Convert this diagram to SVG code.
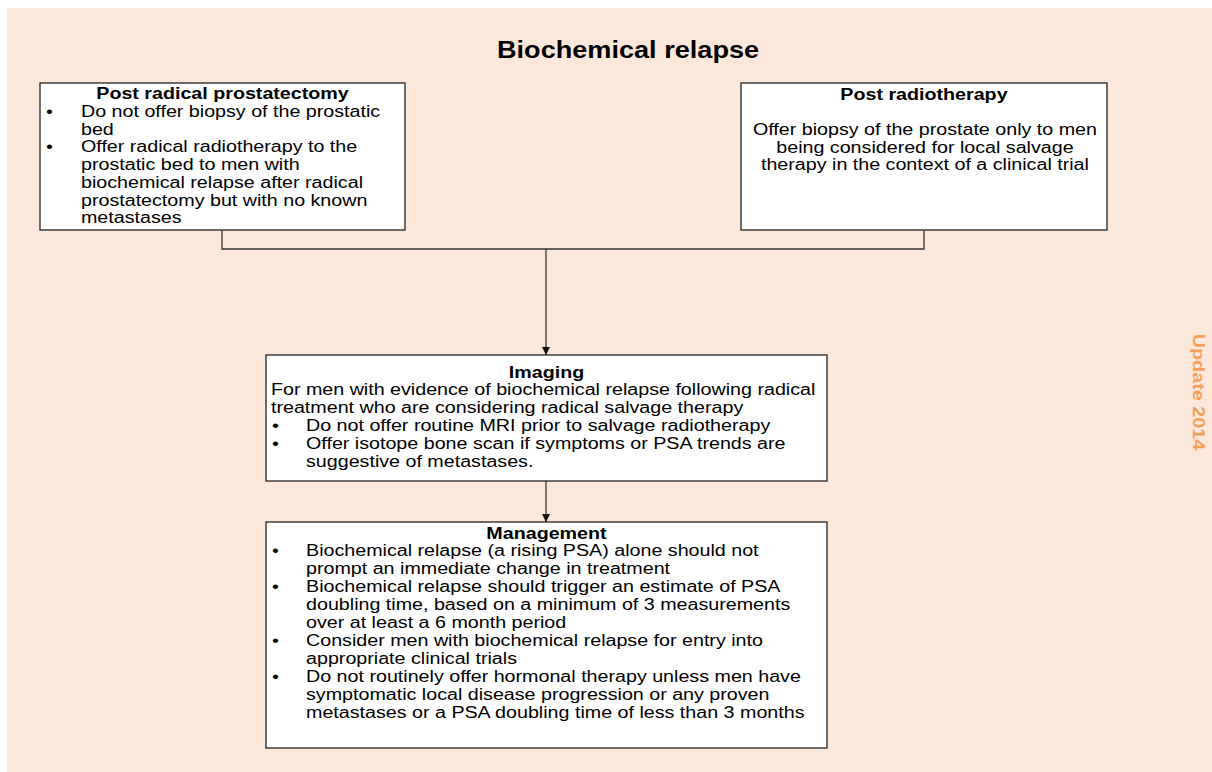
<svg xmlns="http://www.w3.org/2000/svg" width="1212" height="772" viewBox="0 0 1212 772">
<defs>
<style>
.bg{fill:#FCE8DA}
.box{fill:#FFFFFF;stroke:#222222;stroke-width:1.3}
.t{font-family:"Liberation Sans",Arial,sans-serif;font-size:16px;fill:#000}
.b{font-weight:bold}
.c{text-anchor:middle}
.conn{fill:none;stroke:#333333;stroke-width:1.3}
</style>
<marker id="arr" viewBox="0 0 10 10" refX="10" refY="5" markerWidth="8" markerHeight="8" markerUnits="userSpaceOnUse" orient="auto">
<path d="M0,0 L10,5 L0,10 Z" fill="#111"/>
</marker>
</defs>
<rect class="bg" x="7" y="8" width="1205" height="764"/>
<g id="title">
<text class="t b c" style="font-size:24px" transform="scale(1.13,1)" x="555.8" y="58">Biochemical relapse</text>
</g>
<g id="update">
<text class="t b c" style="font-size:16.5px;fill:#F5A05A" transform="translate(1193,392) rotate(90) scale(1.2,1)" x="0" y="0">Update 2014</text>
</g>
<g id="connectors">
<path class="conn" d="M222,230 V249 H924 V230"/>
<path class="conn" d="M546,249 V355" marker-end="url(#arr)"/>
<path class="conn" d="M546,481 V522" marker-end="url(#arr)"/>
</g>
<g id="post-prostatectomy">
<rect class="box" x="40" y="83" width="365" height="147"/>
<g transform="scale(1.23,1)">
<text class="t b c" x="180.9" y="99">Post radical prostatectomy</text>
<text class="t" x="37.4" y="117">•</text>
<text class="t" x="65.85" y="117">Do not offer biopsy of the prostatic</text>
<text class="t" x="65.85" y="135">bed</text>
<text class="t" x="37.4" y="152">•</text>
<text class="t" x="65.85" y="152">Offer radical radiotherapy to the</text>
<text class="t" x="65.85" y="170">prostatic bed to men with</text>
<text class="t" x="65.85" y="188">biochemical relapse after radical</text>
<text class="t" x="65.85" y="206">prostatectomy but with no known</text>
<text class="t" x="65.85" y="223">metastases</text>
</g>
</g>
<g id="post-radiotherapy">
<rect class="box" x="741" y="83" width="366" height="147"/>
<g transform="scale(1.23,1)">
<text class="t b c" x="751.2" y="100">Post radiotherapy</text>
<text class="t c" x="752" y="135">Offer biopsy of the prostate only to men</text>
<text class="t c" x="752" y="153">being considered for local salvage</text>
<text class="t c" x="752" y="170">therapy in the context of a clinical trial</text>
</g>
</g>
<g id="imaging">
<rect class="box" x="266" y="355" width="561" height="126"/>
<g transform="scale(1.23,1)">
<text class="t b c" x="444.3" y="378">Imaging</text>
<text class="t" x="220.3" y="395">For men with evidence of biochemical relapse following radical</text>
<text class="t" x="220.3" y="413">treatment who are considering radical salvage therapy</text>
<text class="t" x="221.1" y="431">•</text>
<text class="t" x="248.8" y="431">Do not offer routine MRI prior to salvage radiotherapy</text>
<text class="t" x="221.1" y="449">•</text>
<text class="t" x="248.8" y="449">Offer isotope bone scan if symptoms or PSA trends are</text>
<text class="t" x="248.8" y="467">suggestive of metastases.</text>
</g>
</g>
<g id="management">
<rect class="box" x="266" y="522" width="561" height="226"/>
<g transform="scale(1.23,1)">
<text class="t b c" x="444.3" y="539">Management</text>
<text class="t" x="221.1" y="556">•</text>
<text class="t" x="248.8" y="556">Biochemical relapse (a rising PSA) alone should not</text>
<text class="t" x="248.8" y="574">prompt an immediate change in treatment</text>
<text class="t" x="221.1" y="592">•</text>
<text class="t" x="248.8" y="592">Biochemical relapse should trigger an estimate of PSA</text>
<text class="t" x="248.8" y="610">doubling time, based on a minimum of 3 measurements</text>
<text class="t" x="248.8" y="628">over at least a 6 month period</text>
<text class="t" x="221.1" y="646">•</text>
<text class="t" x="248.8" y="646">Consider men with biochemical relapse for entry into</text>
<text class="t" x="248.8" y="664">appropriate clinical trials</text>
<text class="t" x="221.1" y="682">•</text>
<text class="t" x="248.8" y="682">Do not routinely offer hormonal therapy unless men have</text>
<text class="t" x="248.8" y="700">symptomatic local disease progression or any proven</text>
<text class="t" x="248.8" y="718">metastases or a PSA doubling time of less than 3 months</text>
</g>
</g>
</svg>
